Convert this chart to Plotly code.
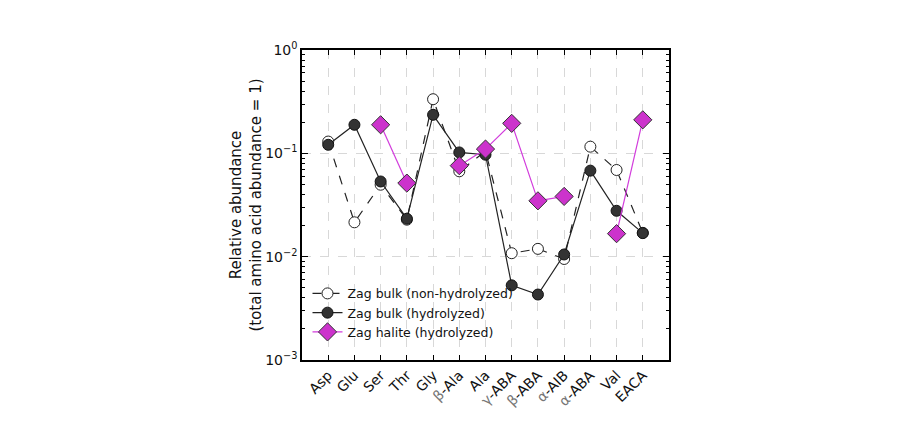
import plotly.graph_objects as go

categories = ["Asp", "Glu", "Ser", "Thr", "Gly", "β-Ala", "Ala", "γ-ABA", "β-ABA", "α-AIB", "α-ABA", "Val", "EACA"]
bulk_nonhydrolyzed = [0.13, 0.0215, 0.0497, 0.0228, 0.334, 0.067, 0.105, 0.0108, 0.0119, 0.0095, 0.116, 0.069, 0.017]
bulk_hydrolyzed = [0.121, 0.189, 0.0534, 0.0233, 0.236, 0.102, 0.097, 0.00528, 0.0043, 0.0105, 0.068, 0.0278, 0.0169]
halite_hydrolyzed = [None, None, 0.189, 0.0515, None, 0.076, 0.110, 0.195, 0.0347, 0.0383, None, 0.0167, 0.211]
ytick_vals = [0.001, 0.01, 0.1, 1]
ytick_text = ["10<sup>−3</sup>", "10<sup>−2</sup>", "10<sup>−1</sup>", "10<sup>0</sup>"]

xidx = list(range(len(categories)))
greek = "βγα"
tick_labels = [
    ("<span style='color:#777777'>%s</span>%s" % (c[0], c[1:])) if c[0] in greek else c
    for c in categories
]

fig = go.Figure()
fig.add_trace(go.Scatter(
    x=xidx, y=bulk_nonhydrolyzed, mode="lines+markers", name="Zag bulk (non-hydrolyzed)",
    line=dict(color="#222222", width=1.2, dash="dash"),
    marker=dict(symbol="circle", size=11, color="white", line=dict(color="#222222", width=1)),
))
fig.add_trace(go.Scatter(
    x=xidx, y=bulk_hydrolyzed, mode="lines+markers", name="Zag bulk (hydrolyzed)",
    line=dict(color="#222222", width=1.2),
    marker=dict(symbol="circle", size=11, color="#333333", line=dict(color="#111111", width=1)),
))
fig.add_trace(go.Scatter(
    x=xidx, y=halite_hydrolyzed, mode="lines+markers", name="Zag halite (hydrolyzed)",
    line=dict(color="#d23cdc", width=1.2), connectgaps=False,
    marker=dict(symbol="diamond", size=14, color="#cc33cc", line=dict(color="#333333", width=1)),
))

fig.update_layout(
    width=900, height=440,
    paper_bgcolor="white", plot_bgcolor="white",
    margin=dict(l=294, r=239, t=42, b=88),
    font=dict(family="DejaVu Sans", color="#111111", size=13),
    showlegend=True,
    legend=dict(x=0.015, y=0.262, xanchor="left", yanchor="top", bgcolor="rgba(255,255,255,0)",
                font=dict(size=12.5), itemwidth=30, tracegroupgap=0),
)
fig.update_xaxes(
    range=[-1, 13], tickmode="array", tickvals=xidx, ticktext=tick_labels,
    tickangle=-45, tickfont=dict(size=14), automargin=False,
    showgrid=True, gridcolor="#d8d8d8", griddash="dash", gridwidth=1,
    showline=True, linecolor="black", linewidth=1.5, mirror="allticks",
    ticks="inside", ticklen=5, tickcolor="black", zeroline=False,
)
fig.update_yaxes(
    type="log", range=[-3, 0], tickmode="array", tickvals=ytick_vals, ticktext=ytick_text,
    tickfont=dict(size=14), automargin=False,
    showgrid=True, gridcolor="#d8d8d8", griddash="dash", gridwidth=1,
    showline=True, linecolor="black", linewidth=1.5, mirror="allticks",
    ticks="inside", ticklen=6, tickcolor="black",
    minor=dict(ticks="inside", ticklen=3, tickcolor="black", showgrid=False,
               tickvals=[m * 10 ** e for e in (-3, -2, -1) for m in range(2, 10)]),
    title=dict(text="Relative abundance<br>(total amino acid abundance = 1)", font=dict(size=15), standoff=0),
)

fig.write_html("out.html")
